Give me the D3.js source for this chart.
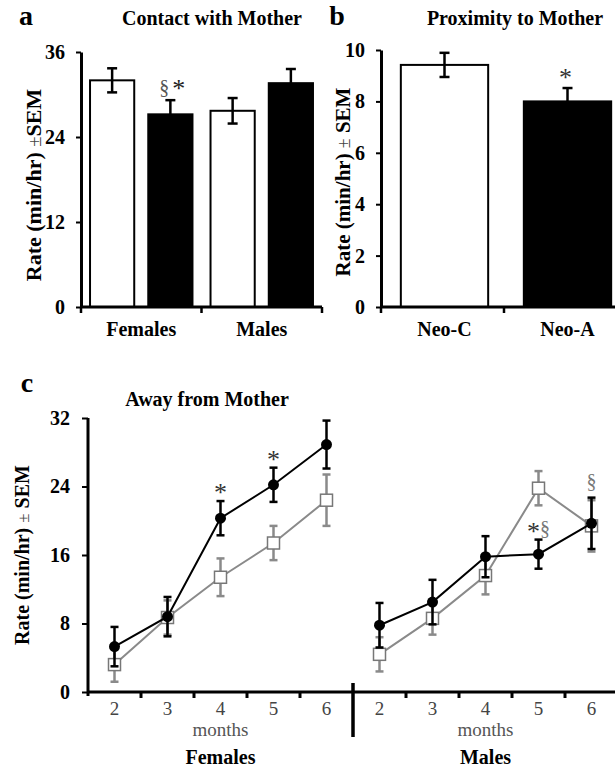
<!DOCTYPE html>
<html><head><meta charset="utf-8">
<script src="https://cdn.jsdelivr.net/npm/d3@7"></script>
<style>body{margin:0;background:#fff} svg text{font-family:"Liberation Serif","Times New Roman",serif}</style>
</head><body>
<script>
// ---------- Panel a: Contact with Mother ----------
const groupsA = ["Females", "Males"];
const seriesAB = ["Neo-C", "Neo-A"];
const contactNeoC = [32.0, 27.7];
const contactNeoCErr = [1.7, 1.8];
const contactNeoA = [27.2, 31.6];
const contactNeoAErr = [2.0, 2.0];
const ticksA = [0, 12, 24, 36];
// ---------- Panel b: Proximity to Mother ----------
const proximityCats = ["Neo-C", "Neo-A"];
const proximity = [9.42, 8.0];
const proximityErr = [0.47, 0.52];
const ticksB = [0, 2, 4, 6, 8, 10];
// ---------- Panel c: Away from Mother ----------
const months = [2, 3, 4, 5, 6];
const sexes = ["Females", "Males"];
const awayFemNeoA = [5.3, 8.8, 20.3, 24.2, 28.9];
const awayFemNeoAErr = [2.3, 2.3, 2.0, 2.0, 2.8];
const awayFemNeoC = [3.2, 8.7, 13.4, 17.4, 22.4];
const awayFemNeoCErr = [2.0, 2.0, 2.2, 2.0, 3.0];
const awayMalNeoA = [7.8, 10.5, 15.8, 16.1, 19.7];
const awayMalNeoAErr = [2.6, 2.6, 2.4, 1.7, 3.0];
const awayMalNeoC = [4.4, 8.6, 13.6, 23.8, 19.4];
const awayMalNeoCErr = [2.0, 1.9, 2.2, 2.0, 3.0];
const ticksC = [0, 8, 16, 24, 32];

const svg = d3.select("body").append("svg").attr("width", 615).attr("height", 769);
const defs = svg.append("defs");
defs.append("filter").attr("id", "glow").attr("x", "-200%").attr("width", "500%")
  .append("feGaussianBlur").attr("stdDeviation", 2);

function txt(g, x, y, s, size, opts = {}) {
  return g.append("text").attr("x", x).attr("y", y).text(s)
    .attr("font-size", size).attr("font-weight", opts.bold === false ? "normal" : "bold")
    .attr("text-anchor", opts.anchor || "middle").attr("fill", opts.fill || "#000");
}
function yTitle(cx, cy, size, pmSpace) {
  const t = svg.append("text").attr("transform", `translate(${cx},${cy}) rotate(-90)`)
    .attr("text-anchor", "middle").attr("font-size", size).attr("font-weight", "bold").attr("dy", "0.35em");
  t.append("tspan").text("Rate (min/hr) ");
  t.append("tspan").attr("font-weight", "normal").attr("fill", "#444").attr("font-size", size * 0.85).text("±");
  t.append("tspan").text(pmSpace + "SEM");
}
function styleYAxis(g, size) {
  g.select(".domain").attr("stroke-width", 3);
  g.selectAll(".tick line").attr("stroke-width", 2);
  g.selectAll(".tick text").attr("font-size", size).attr("font-weight", "bold")
    .attr("font-family", '"Liberation Serif", serif').attr("fill", "#000");
}
function errBar(g, x, y0, y1, color, w, cap) {
  g.append("line").attr("x1", x).attr("x2", x).attr("y1", y0).attr("y2", y1)
    .attr("stroke", color).attr("stroke-width", w);
  [y0, y1].forEach(y => g.append("line").attr("x1", x - cap).attr("x2", x + cap)
    .attr("y1", y).attr("y2", y).attr("stroke", color).attr("stroke-width", w));
}

// ======== Panel a ========
{
  const g = svg.append("g");
  const y = d3.scaleLinear().domain([0, 36]).range([307, 52]);
  const x = d3.scaleBand().domain(groupsA).range([81, 322]);
  const sub = d3.scaleBand().domain(seriesAB).range([0, x.bandwidth()]).paddingInner(0.241).paddingOuter(0.155);
  const vals = {"Neo-C": contactNeoC, "Neo-A": contactNeoA};
  const errs = {"Neo-C": contactNeoCErr, "Neo-A": contactNeoAErr};
  groupsA.forEach((grp, i) => {
    seriesAB.forEach(s => {
      const v = vals[s][i], e = errs[s][i];
      const bx = x(grp) + sub(s);
      g.append("rect").attr("x", bx).attr("y", y(v)).attr("width", sub.bandwidth()).attr("height", y(0) - y(v))
        .attr("fill", s === "Neo-C" ? "#fff" : "#000").attr("stroke", "#000").attr("stroke-width", 2);
      const cx = bx + sub.bandwidth() / 2;
      if (s === "Neo-A") {
        g.append("line").attr("x1", cx).attr("x2", cx).attr("y1", y(v)).attr("y2", y(v - e))
          .attr("stroke", "#999").attr("stroke-width", 3).attr("filter", "url(#glow)");
      }
      errBar(g, cx, y(v + e), y(v - e), "#000", 2.5, 5);
    });
    txt(g, x(grp) + x.bandwidth() / 2, 336, grp, 20);
  });
  // annotation over Females Neo-A
  {
    const cx = x("Females") + sub("Neo-A") + sub.bandwidth() / 2;
    const t = g.append("text").attr("x", cx + 2).attr("y", y(contactNeoA[0] + contactNeoAErr[0]) - 6)
      .attr("text-anchor", "middle").attr("font-size", 20);
    t.append("tspan").attr("fill", "#555").text("§");
    t.append("tspan").attr("fill", "#222").attr("dx", 3).attr("font-size", 26).attr("dy", 3).text("*");
  }
  const ya = g.append("g").attr("transform", "translate(81,0)")
    .call(d3.axisLeft(y).tickValues(ticksA).tickSize(5).tickSizeOuter(0).tickPadding(11));
  styleYAxis(ya, 20);
  g.append("line").attr("x1", 80).attr("x2", 322).attr("y1", 307).attr("y2", 307).attr("stroke", "#000").attr("stroke-width", 3);
  const bounds = [x.range()[0]].concat(groupsA.map(d => x(d) + x.step()));
  bounds.forEach(b => g.append("line").attr("x1", b).attr("x2", b).attr("y1", 307).attr("y2", 313).attr("stroke", "#000").attr("stroke-width", 2.5));
  txt(g, 212, 25, "Contact with Mother", 20);
  txt(g, 26, 25, "a", 28);
  yTitle(33, 185, 22, "");
}

// ======== Panel b ========
{
  const g = svg.append("g");
  const y = d3.scaleLinear().domain([0, 10]).range([307, 50]);
  const x = d3.scaleBand().domain(proximityCats).range([381, 627]).paddingInner(0.29).paddingOuter(0.145);
  proximityCats.forEach((c, i) => {
    const v = proximity[i], e = proximityErr[i];
    g.append("rect").attr("x", x(c) + 2).attr("y", y(v)).attr("width", x.bandwidth()).attr("height", y(0) - y(v))
      .attr("fill", c === "Neo-C" ? "#fff" : "#000").attr("stroke", "#000").attr("stroke-width", 2);
    const cx = x(c) + 2 + x.bandwidth() / 2;
    if (c === "Neo-A") {
      g.append("line").attr("x1", cx).attr("x2", cx).attr("y1", y(v)).attr("y2", y(v - e))
        .attr("stroke", "#999").attr("stroke-width", 3).attr("filter", "url(#glow)");
    }
    errBar(g, cx, y(v + e), y(v - e), "#000", 2.5, 5);
    txt(g, cx, 336, c, 20);
    if (c === "Neo-A") txt(g, cx - 2, y(v + e) - 2, "*", 26, {bold: false, fill: "#333"});
  });
  const ya = g.append("g").attr("transform", "translate(381,0)")
    .call(d3.axisLeft(y).tickValues(ticksB).tickSize(5).tickSizeOuter(0).tickPadding(11));
  styleYAxis(ya, 20);
  g.append("line").attr("x1", 380).attr("x2", 627).attr("y1", 307).attr("y2", 307).attr("stroke", "#000").attr("stroke-width", 3);
  const step = (x.range()[1] - x.range()[0]) / proximityCats.length;
  [0, 1, 2].forEach(k => {
    const b = x.range()[0] + k * step;
    g.append("line").attr("x1", b).attr("x2", b).attr("y1", 307).attr("y2", 313).attr("stroke", "#000").attr("stroke-width", 2.5);
  });
  txt(g, 515, 25, "Proximity to Mother", 20);
  txt(g, 337, 25, "b", 28);
  yTitle(343, 182, 21, " ");
}

// ======== Panel c ========
{
  const g = svg.append("g");
  const y = d3.scaleLinear().domain([0, 32]).range([692, 418]);
  const keys = [];
  sexes.forEach(s => months.forEach(m => keys.push(s + m)));
  const x = d3.scaleBand().domain(keys).range([88, 618]);
  const cx = (s, m) => x(s + m) + x.bandwidth() / 2;

  // axes
  const ya = g.append("g").attr("transform", "translate(88,0)")
    .call(d3.axisLeft(y).tickValues(ticksC).tickSize(6).tickSizeOuter(0).tickPadding(12));
  styleYAxis(ya, 20);
  ya.select(".domain").attr("d", `M0,${y(32)}V${y(0) + 4}`);
  g.append("line").attr("x1", 87).attr("x2", 618).attr("y1", 692).attr("y2", 692).attr("stroke", "#000").attr("stroke-width", 3);
  keys.forEach((k, i) => {
    if (i === 0) return;
    const b = x(k);
    if (i === 5) {
      g.append("line").attr("x1", b).attr("x2", b).attr("y1", 683).attr("y2", 737).attr("stroke", "#000").attr("stroke-width", 3.5);
    } else {
      g.append("line").attr("x1", b).attr("x2", b).attr("y1", 692).attr("y2", 698).attr("stroke", "#000").attr("stroke-width", 3);
    }
  });
  sexes.forEach(s => {
    months.forEach(m => txt(g, cx(s, m), 715, String(m), 19, {bold: false, fill: "#444"}));
    txt(g, cx(s, 4), 736, "months", 19, {bold: false, fill: "#555"});
    txt(g, cx(s, 4), 764, s, 20);
  });

  const series = [
    {sex: "Females", vals: awayFemNeoC, errs: awayFemNeoCErr, type: "C"},
    {sex: "Males", vals: awayMalNeoC, errs: awayMalNeoCErr, type: "C"},
    {sex: "Females", vals: awayFemNeoA, errs: awayFemNeoAErr, type: "A"},
    {sex: "Males", vals: awayMalNeoA, errs: awayMalNeoAErr, type: "A"},
  ];
  const line = d3.line().x(d => d[0]).y(d => d[1]);
  series.forEach(sr => {
    const col = sr.type === "A" ? "#000" : "#8a8a8a";
    const pts = months.map((m, i) => [cx(sr.sex, m), y(sr.vals[i])]);
    months.forEach((m, i) => errBar(g, pts[i][0], y(sr.vals[i] + sr.errs[i]), y(sr.vals[i] - sr.errs[i]), col, 2.5, 4));
    g.append("path").attr("d", line(pts)).attr("fill", "none").attr("stroke", col).attr("stroke-width", 2);
    pts.forEach(p => {
      if (sr.type === "A") g.append("circle").attr("cx", p[0]).attr("cy", p[1]).attr("r", 5.5).attr("fill", "#000");
      else g.append("rect").attr("x", p[0] - 6).attr("y", p[1] - 6).attr("width", 12).attr("height", 12)
        .attr("fill", "#fff").attr("stroke", "#777").attr("stroke-width", 1.5);
    });
  });
  // annotations
  const ann = [
    {sex: "Females", m: 4, vals: awayFemNeoA, errs: awayFemNeoAErr, parts: [["*", "#333", 26]]},
    {sex: "Females", m: 5, vals: awayFemNeoA, errs: awayFemNeoAErr, parts: [["*", "#333", 26]]},
    {sex: "Males", m: 5, vals: awayMalNeoA, errs: awayMalNeoAErr, parts: [["*", "#333", 26], ["§", "#777", 20]]},
    {sex: "Males", m: 6, vals: awayMalNeoA, errs: awayMalNeoAErr, parts: [["§", "#777", 20]]},
  ];
  ann.forEach(a => {
    const i = months.indexOf(a.m);
    const t = g.append("text").attr("x", cx(a.sex, a.m)).attr("y", y(a.vals[i] + a.errs[i]) - (a.parts[0][0] === "*" ? 0 : 10))
      .attr("text-anchor", "middle").attr("font-size", 20);
    a.parts.forEach((p, k) => {
      const ts = t.append("tspan").attr("fill", p[1]).attr("font-size", p[2]).text(p[0]);
      if (k > 0 && p[0] === "§") ts.attr("dy", -5);
    });
  });
  txt(g, 207, 406, "Away from Mother", 20);
  txt(g, 27, 392, "c", 28);
  yTitle(22, 555, 20, " ");
}
</script>
</body></html>
